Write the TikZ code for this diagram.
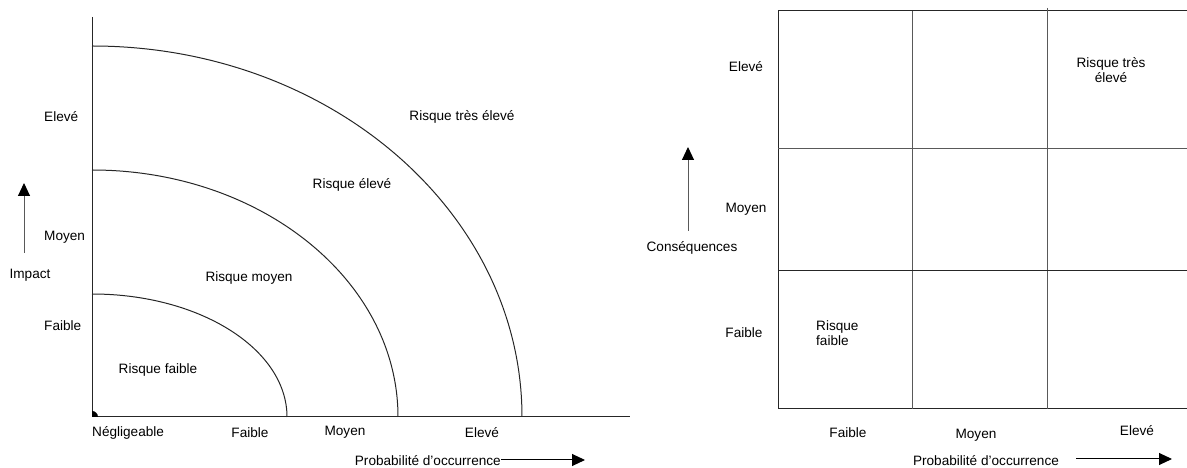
\documentclass[tikz,border=0pt]{standalone}
\usepackage{fontspec}
\setmainfont{Liberation Sans}
\usetikzlibrary{arrows.meta, positioning}

\begin{document}
\begin{tikzpicture}[x=1pt, y=1pt,
    lbl/.style={font=\fontsize{13.6}{15.5}\selectfont, inner sep=0pt},
    axis/.style={line width=1pt, black!85},
    gridline/.style={line width=1pt, black!65},
    arr/.style={line width=1pt, black!65, -{Triangle[width=12pt,length=13pt,fill=black,color=black]}}]
  \useasboundingbox (0,0) rectangle (1187,468);

  % ---- Left chart: impact / probability ----
  \coordinate (O) at (92,51);
  \draw[axis] (92,451) -- (O) -- (630,51);
  \fill (O) -- ++(6,0) arc[start angle=0, end angle=90, radius=6] -- cycle;

  % Risk zones
  \draw[axis] (92,422) arc[start angle=90, end angle=0, x radius=430, y radius=371];
  \draw[axis] (92,298) arc[start angle=90, end angle=0, x radius=306, y radius=247];
  \draw[axis] (92,174) arc[start angle=90, end angle=0, x radius=195, y radius=123];

  \node[lbl] (rte) at (462,351) {Risque très élevé};
  \node[lbl] (re) at (352,283) {Risque élevé};
  \node[lbl] (rm) at (249,190) {Risque moyen};
  \node[lbl] (rf) at (158,98) {Risque faible};

  % Impact levels
  \node[lbl, anchor=west] (ie) at (44,351) {Elevé};
  \node[lbl, anchor=west] (im) at (44,231) {Moyen};
  \node[lbl, anchor=west] (if) at (44,142) {Faible};
  \node[lbl] (imp) at (30,193) {Impact};
  \coordinate (impA) at (24,215);
  \coordinate (impB) at (24,285);
  \draw[arr] (impA) -- (impB);

  % Probability levels
  \node[lbl, anchor=west] (pn) at (92,35) {Négligeable};
  \node[lbl] (pf) at (250,35) {Faible};
  \node[lbl] (pm) at (345,36) {Moyen};
  \node[lbl] (pe) at (482,35) {Elevé};
  \node[lbl, anchor=east] (prob) at (501,7) {Probabilité d'occurrence};
  \coordinate (probB) at (585,8);
  \draw[arr, black] (prob.east) ++(0,1) -- (probB);

  % ---- Right chart: consequences / probability ----
  \draw[axis] (1187,457) -- (778,457) -- (778,59) -- (1187,59);
  \draw[gridline] (912,457) -- (912,59);
  \draw[gridline] (1047,460) -- (1047,59);
  \draw[gridline] (778,319) -- (1187,319);
  \draw[axis] (778,197) -- (1187,197);

  \node[lbl, align=center] (mte) at (1111,398) {Risque très\\élevé};
  \node[lbl, align=left, anchor=west] (mf) at (816,135) {Risque\\faible};

  % Consequence levels
  \node[lbl] (ce) at (746,401) {Elevé};
  \node[lbl] (cm) at (746,259) {Moyen};
  \node[lbl] (cf) at (744,135) {Faible};
  \node[lbl] (cons) at (692,220) {Conséquences};
  \coordinate (consA) at (688,237);
  \coordinate (consB) at (688,321);
  \draw[arr] (consA) -- (consB);

  % Probability levels
  \node[lbl] (qf) at (848,35) {Faible};
  \node[lbl] (qm) at (976,33) {Moyen};
  \node[lbl] (qe) at (1137,37) {Elevé};
  \node[lbl] (prob2) at (986,7) {Probabilité d'occurrence};
  \coordinate (prob2A) at (1076,9);
  \coordinate (prob2B) at (1172,9);
  \draw[arr, black] (prob2A) -- (prob2B);
\end{tikzpicture}
\end{document}
